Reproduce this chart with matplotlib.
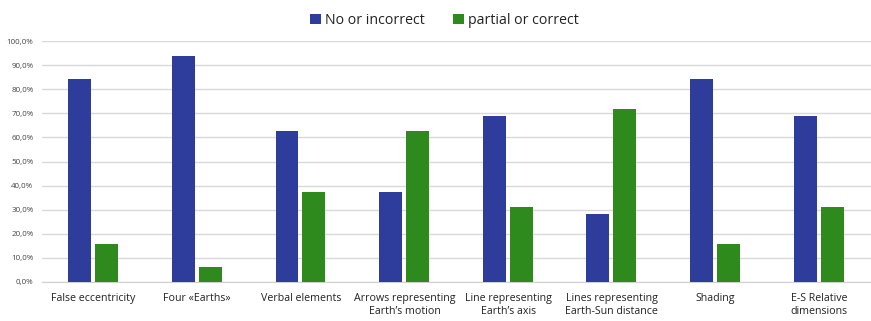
import numpy as np
import matplotlib.pyplot as plt
from matplotlib.ticker import FuncFormatter

categories = ["False eccentricity", "Four \u00abEarths\u00bb", "Verbal elements",
              "Arrows representing\nEarth\u2019s motion", "Line representing\nEarth\u2019s axis",
              "Lines representing\nEarth-Sun distance", "Shading", "E-S Relative\ndimensions"]
no_incorrect = [84.4, 93.8, 62.5, 37.5, 68.8, 28.1, 84.4, 68.8]
partial_correct = [15.6, 6.2, 37.5, 62.5, 31.2, 71.9, 15.6, 31.2]

blue = "#2e3d9b"
green = "#2f8a1d"

plt.rcParams['font.family'] = ['Open Sans', 'DejaVu Sans']

fig = plt.figure(figsize=(8.71, 3.21), dpi=100)
ax = fig.add_axes([0.048, 0.1215, 0.952, 0.7505])

x = np.arange(len(categories))
w = 0.22
ax.bar(x - 0.135, no_incorrect, w, color=blue, label="No or incorrect", zorder=3)
ax.bar(x + 0.125, partial_correct, w, color=green, label="partial or correct", zorder=3)

ax.set_xlim(-0.5, len(categories) - 0.5)
ax.set_ylim(0, 100)
ax.set_yticks(np.arange(0, 101, 10))
ax.yaxis.set_major_formatter(FuncFormatter(lambda v, p: f"{v:.1f}%".replace(".", ",")))
ax.set_xticks(x)
ax.set_xticklabels(categories, fontsize=7.7, color="#222222", linespacing=1.25)
ax.tick_params(axis='y', labelsize=5.8, colors="#444444", length=0, pad=6)
ax.tick_params(axis='x', length=0, pad=8)
ax.grid(axis='y', color="#d9d9d9", linewidth=1, zorder=0)
for s in ['top', 'right', 'left']:
    ax.spines[s].set_visible(False)
ax.spines['bottom'].set_color("#d0d0d0")

fig.legend(loc='upper center', bbox_to_anchor=(0.51, 1.0), ncol=2, frameon=False,
           fontsize=10.2, handlelength=0.75, handleheight=0.75, handletextpad=0.3,
           columnspacing=2.0, labelcolor="#222222")

fig.savefig("out.png", dpi=100)
